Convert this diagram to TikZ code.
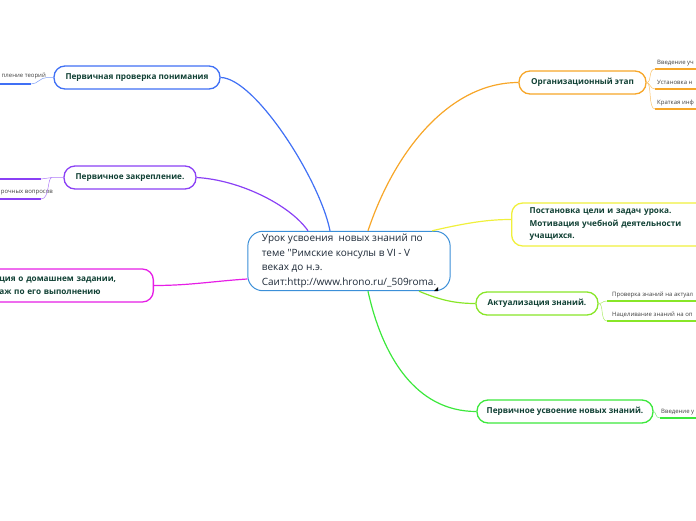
\documentclass[tikz,border=0pt]{standalone}
\usepackage{fontspec}
\setmainfont{Open Sans}
\usetikzlibrary{calc}
\definecolor{ctrblue}{RGB}{59,143,216}
\definecolor{brblue}{RGB}{64,112,245}
\definecolor{brpurple}{RGB}{138,64,245}
\definecolor{brmagenta}{RGB}{230,30,230}
\definecolor{brorange}{RGB}{247,166,40}
\definecolor{bryellow}{RGB}{240,240,60}
\definecolor{brlime}{RGB}{136,230,40}
\definecolor{brgreen}{RGB}{60,232,60}
\definecolor{topictext}{RGB}{16,64,52}
\definecolor{ctrtext}{RGB}{30,42,56}

\begin{document}
\begin{tikzpicture}[x=1pt,y=-1pt,
  topic/.style={draw=#1, line width=1.3pt, fill=white, rounded corners=11pt,
    minimum height=23pt, inner sep=2pt, text=topictext,
    font=\fontsize{8.2}{12.5}\selectfont\bfseries},
  branch/.style={draw=#1, line width=1.2pt},
  twig/.style={draw=#1!70, line width=0.5pt},
  leaf/.style={draw=#1, line width=1.6pt},
  leaftext/.style={inner sep=0pt, text=black!75, font=\fontsize{6}{7}\selectfont}]
\useasboundingbox (0,0) rectangle (696,520);
\clip (0,0) rectangle (696,520);

% central topic
\node[draw=ctrblue, line width=1pt, rounded corners=15pt, fill=white, align=left,
  inner xsep=14pt, inner ysep=3pt, text=ctrtext, font=\fontsize{10}{14.5}\selectfont]
  (centre) at (349,261) {Урок усвоения\ \ новых знаний по\\
  теме \textquotedbl Римские консулы в VI - V\\
  веках до н.э.\\
  Саит:http://www.hrono.ru/\_509roma.};
\fill[black] (434,291) -- (438,291) -- (438,287) -- cycle; % resize mark

% main topics
\node[topic=brblue, minimum width=166pt] (proverka) at (137,77.5) {Первичная проверка понимания};
\node[topic=brpurple, minimum width=132pt] (zakrep) at (130,177.5) {Первичное закрепление.};
\node[topic=brmagenta, text width=130pt, align=left, inner xsep=24pt, minimum height=33pt, anchor=east]
  (domzad) at (154,285.5) {ция о домашнем задании,\\ аж по его выполнению};
\node[topic=brorange, minimum width=127pt] (orgetap) at (582.5,82.5) {Организационный этап};
\node[topic=bryellow, text width=200pt, align=left, inner xsep=18pt, minimum height=43pt, anchor=west]
  (postanovka) at (511,224.5) {Постановка цели и задач урока.\\ Мотивация учебной деятельности\\ учащихся.};
\node[topic=brlime, minimum width=122pt] (aktual) at (537,303.5) {Актуализация знаний.};
\node[topic=brgreen, minimum width=176pt] (usvoenie) at (565,411.5) {Первичное усвоение новых знаний.};

% branches
\draw[branch=brblue] ([xshift=-19pt]centre.north) .. controls (320,180) and (255,78) .. (proverka.east);
\draw[branch=brpurple] ([xshift=-41pt]centre.north) .. controls (290,205) and (240,180) .. (zakrep.east);
\draw[branch=brmagenta] ([yshift=-18pt]centre.west) .. controls (215,281) and (190,285.5) .. (domzad.east);
\draw[branch=brorange] ([xshift=19pt]centre.north) .. controls (395,150) and (450,82.5) .. (orgetap.west);
\draw[branch=bryellow] (centre.20) .. controls (470,222) and (490,219.5) .. ([yshift=5pt]postanovka.west);
\draw[branch=brlime] ([xshift=70pt]centre.south) .. controls (440,300) and (455,303.5) .. (aktual.west);
\draw[branch=brgreen] ([xshift=19pt]centre.south) .. controls (382,355) and (415,411.5) .. (usvoenie.west);

% subtopics, left
\node[leaftext, anchor=base east] (teorii) at (46,77) {пление теорий};
\coordinate (teoriiend) at (31,84);
\draw[leaf=brblue] (0,84) -- (teoriiend);
\draw[twig=brblue] (proverka.west) -- (47,77.5) .. controls (40,77.5) and (38,84) .. (teoriiend);

\coordinate (zak1) at (41,179);
\coordinate (zak2) at (41,199);
\node[leaftext, anchor=base east] (voprosy) at (53,193) {рочных вопросов};
\draw[leaf=brpurple] (0,179) -- (zak1);
\draw[leaf=brpurple] (0,199) -- (zak2);
\draw[twig=brpurple] (zakrep.west) -- (52,177.5) .. controls (46,177.5) and (46,179) .. (zak1);
\draw[twig=brpurple] (52,177.5) .. controls (47,177.5) and (50,199) .. (zak2);

% subtopics, right
\coordinate (org1) at (655,69);
\coordinate (org2) at (655,89);
\coordinate (org3) at (655,109);
\node[leaftext, anchor=base west] (vvedenie) at (657,64) {Введение уч};
\node[leaftext, anchor=base west] (ustanovka) at (657,84) {Установка н};
\node[leaftext, anchor=base west] (kratkaya) at (657,104) {Краткая инф};
\draw[leaf=brorange] (org1) -- (696,69);
\draw[leaf=brorange] (org2) -- (696,89);
\draw[leaf=brorange] (org3) -- (696,109);
\draw[twig=brorange] (orgetap.east) .. controls (652,82.5) and (648,69) .. (org1);
\draw[twig=brorange] (orgetap.east) .. controls (650,82.5) and (650,89) .. (org2);
\draw[twig=brorange] (orgetap.east) .. controls (652,82.5) and (648,109) .. (org3);

\coordinate (akt1) at (607,301);
\coordinate (akt2) at (607,321);
\node[leaftext, anchor=base west] (proverkaZn) at (612,296) {Проверка знаний на актуал};
\node[leaftext, anchor=base west] (nacelivanie) at (612,316) {Нацеливание знаний на оп};
\draw[leaf=brlime] (akt1) -- (696,301);
\draw[leaf=brlime] (akt2) -- (696,321);
\draw[twig=brlime] (aktual.east) .. controls (603,303.5) and (602,301) .. (akt1);
\draw[twig=brlime] (aktual.east) .. controls (604,303.5) and (600,321) .. (akt2);

\coordinate (usv1) at (660,418);
\node[leaftext, anchor=base west] (vvedenieU) at (661,413) {Введение у};
\draw[leaf=brgreen] (usv1) -- (696,418);
\draw[twig=brgreen] (usvoenie.east) .. controls (656,411.5) and (655,418) .. (usv1);
\end{tikzpicture}
\end{document}
